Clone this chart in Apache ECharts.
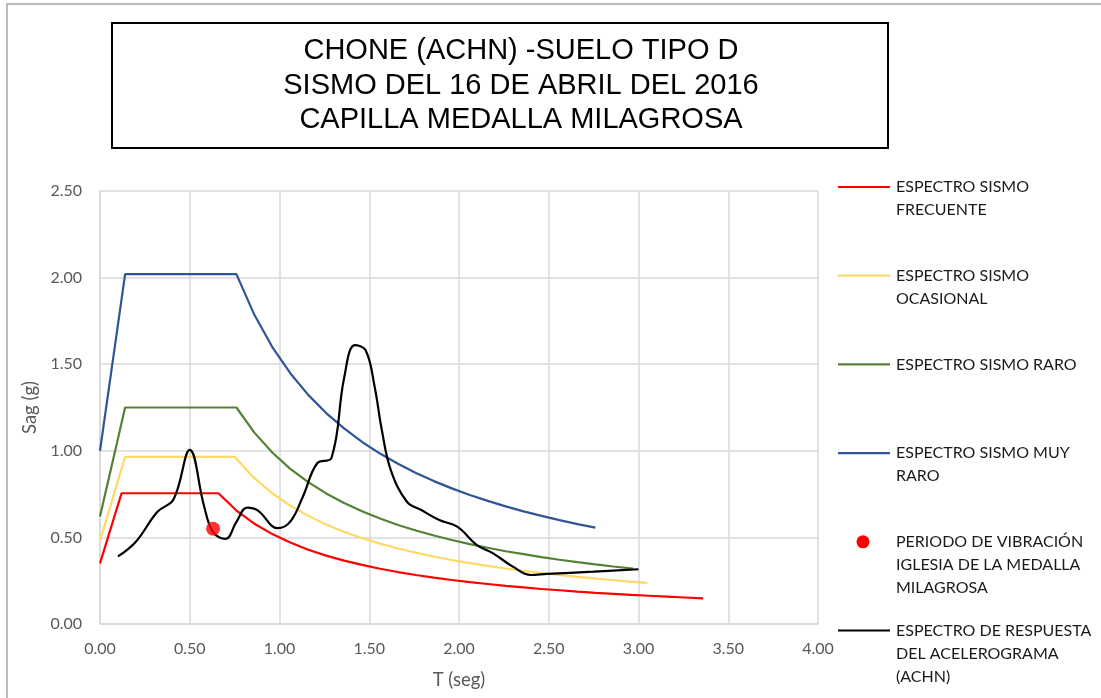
<!DOCTYPE html>
<html><head><meta charset="utf-8">
<script src="https://cdn.jsdelivr.net/npm/echarts/dist/echarts.min.js"></script>
<style>html,body{margin:0;padding:0;background:#fff}#c{width:1101px;height:698px}</style>
</head><body><div id="c"></div>
<script>
// ---- Text ----
const titleLines = ['CHONE (ACHN) -SUELO TIPO D', 'SISMO DEL 16 DE ABRIL DEL 2016', 'CAPILLA MEDALLA MILAGROSA'];
const xAxisTitle = 'T (seg)';
const yAxisTitle = 'Sag (g)';
const legendLabels = [
  'ESPECTRO SISMO\nFRECUENTE',
  'ESPECTRO SISMO\nOCASIONAL',
  'ESPECTRO SISMO RARO',
  'ESPECTRO SISMO MUY\nRARO',
  'PERIODO DE VIBRACIÓN\nIGLESIA DE LA MEDALLA\nMILAGROSA',
  'ESPECTRO DE RESPUESTA\nDEL ACELEROGRAMA\n(ACHN)'
];
const xTicks = [0, 0.5, 1, 1.5, 2, 2.5, 3, 3.5, 4];
const yTicks = [0, 0.5, 1, 1.5, 2, 2.5];

// ---- Data ----
const frecuenteT  = [0, 0.12, 0.66, 0.76, 0.86, 0.96, 1.06, 1.16, 1.26, 1.36, 1.46, 1.56, 1.66, 1.76, 1.86, 1.96, 2.06, 2.16, 2.26, 2.36, 2.46, 2.56, 2.66, 2.76, 2.86, 2.96, 3.06, 3.16, 3.26, 3.36];
const frecuenteSa = [0.35, 0.755, 0.755, 0.655, 0.579, 0.519, 0.470, 0.429, 0.395, 0.366, 0.341, 0.319, 0.300, 0.283, 0.268, 0.254, 0.242, 0.231, 0.220, 0.211, 0.202, 0.195, 0.187, 0.180, 0.174, 0.168, 0.163, 0.158, 0.153, 0.148];

const ocasionalT  = [0, 0.14, 0.75, 0.85, 0.95, 1.05, 1.15, 1.25, 1.35, 1.45, 1.55, 1.65, 1.75, 1.85, 1.95, 2.05, 2.15, 2.25, 2.35, 2.45, 2.55, 2.65, 2.75, 2.85, 2.95, 3.05];
const ocasionalSa = [0.48, 0.965, 0.965, 0.852, 0.762, 0.690, 0.630, 0.579, 0.536, 0.499, 0.467, 0.439, 0.414, 0.391, 0.371, 0.353, 0.337, 0.322, 0.308, 0.296, 0.284, 0.273, 0.263, 0.254, 0.245, 0.237];

const raroT  = [0, 0.14, 0.76, 0.86, 0.96, 1.06, 1.16, 1.26, 1.36, 1.46, 1.56, 1.66, 1.76, 1.86, 1.96, 2.06, 2.16, 2.26, 2.36, 2.46, 2.56, 2.66, 2.76, 2.86, 2.97];
const raroSa = [0.62, 1.25, 1.25, 1.105, 0.990, 0.896, 0.819, 0.754, 0.699, 0.651, 0.609, 0.572, 0.540, 0.511, 0.485, 0.461, 0.440, 0.420, 0.403, 0.386, 0.371, 0.357, 0.344, 0.332, 0.320];

const muyRaroT  = [0, 0.14, 0.76, 0.86, 0.96, 1.06, 1.16, 1.26, 1.36, 1.46, 1.56, 1.66, 1.76, 1.86, 1.96, 2.06, 2.16, 2.26, 2.36, 2.46, 2.56, 2.66, 2.76];
const muyRaroSa = [1.00, 2.02, 2.02, 1.785, 1.599, 1.448, 1.323, 1.218, 1.129, 1.051, 0.984, 0.925, 0.872, 0.825, 0.783, 0.745, 0.711, 0.679, 0.650, 0.624, 0.600, 0.577, 0.556];

const periodoT  = [0.63];
const periodoSa = [0.55];

const achnT  = [0.10, 0.20, 0.32, 0.41, 0.50, 0.58, 0.63, 0.70, 0.76, 0.82, 0.88, 0.99, 1.06, 1.13, 1.21, 1.29, 1.36, 1.42, 1.48, 1.53, 1.57, 1.62, 1.71, 1.79, 1.89, 1.99, 2.10, 2.19, 2.30, 2.40, 2.49, 2.75, 3.00];
const achnSa = [0.39, 0.475, 0.648, 0.72, 1.005, 0.68, 0.53, 0.491, 0.59, 0.672, 0.655, 0.553, 0.591, 0.735, 0.928, 0.96, 1.42, 1.61, 1.58, 1.37, 1.12, 0.889, 0.706, 0.658, 0.600, 0.562, 0.456, 0.408, 0.331, 0.283, 0.289, 0.302, 0.316];

// ---- Styles ----
const colors = ['#ff0000', '#ffd966', '#548235', '#2f5597', '#ff0000', '#000000'];
const zip = (a, b) => a.map((v, i) => [v, b[i]]);

const chart = echarts.init(document.getElementById('c'), null, {renderer: 'canvas'});
const tickFont = {fontFamily: 'Lato', fontSize: 16, color: '#595959'};
const gridColor = '#d9d9d9';

// Legend graphic elements
const legendEls = [];
const legTop = 187, legStep = 88.7;
legendLabels.forEach((lab, i) => {
  const cy = legTop + i * legStep;
  if (i === 4) {
    legendEls.push({type: 'circle', shape: {cx: 863, cy: cy, r: 6.5}, style: {fill: colors[i]}});
  } else {
    legendEls.push({type: 'line', shape: {x1: 838, y1: cy, x2: 890, y2: cy}, style: {stroke: colors[i], lineWidth: 2.2}});
  }
  legendEls.push({type: 'text', x: 896, y: cy - 11.5, style: {text: lab, font: '16px Lato', fill: '#1a1a1a', lineHeight: 23, verticalAlign: 'top', align: 'left'}});
});

const titleEls = titleLines.map((t, i) => ({
  type: 'text', x: 521, y: 51 + i * 34.7,
  style: {text: t, font: '29px "Liberation Sans"', fill: '#000', align: 'center', verticalAlign: 'middle'}
}));

const lineSeries = (name, t, s, c) => ({
  name, type: 'line', data: zip(t, s), showSymbol: false, symbol: 'none',
  lineStyle: {color: c, width: 2.2}, itemStyle: {color: c}, z: 3, animation: false
});

chart.setOption({
  backgroundColor: '#fff',
  animation: false,
  grid: {left: 100, right: 283, top: 191, bottom: 74, containLabel: false},
  xAxis: {
    type: 'value', min: 0, max: 4, interval: 0.5,
    name: xAxisTitle, nameLocation: 'middle', nameGap: 47,
    nameTextStyle: {fontFamily: 'Lato', fontSize: 18.5, color: '#595959'},
    axisLine: {show: true, lineStyle: {color: gridColor, width: 1.5}},
    axisTick: {show: false},
    splitLine: {show: true, lineStyle: {color: gridColor, width: 1.5}},
    axisLabel: Object.assign({margin: 17, formatter: v => v.toFixed(2)}, tickFont)
  },
  yAxis: {
    type: 'value', min: 0, max: 2.5, interval: 0.5,
    name: yAxisTitle, nameLocation: 'middle', nameGap: 60, nameRotate: 90,
    nameTextStyle: {fontFamily: 'Lato', fontSize: 18.5, color: '#595959'},
    axisLine: {show: true, lineStyle: {color: gridColor, width: 1.5}},
    axisTick: {show: false},
    splitLine: {show: true, lineStyle: {color: gridColor, width: 1.5}},
    axisLabel: Object.assign({margin: 18, formatter: v => v.toFixed(2)}, tickFont)
  },
  series: [
    lineSeries('ESPECTRO SISMO FRECUENTE', frecuenteT, frecuenteSa, colors[0]),
    lineSeries('ESPECTRO SISMO OCASIONAL', ocasionalT, ocasionalSa, colors[1]),
    lineSeries('ESPECTRO SISMO RARO', raroT, raroSa, colors[2]),
    lineSeries('ESPECTRO SISMO MUY RARO', muyRaroT, muyRaroSa, colors[3]),
    Object.assign(lineSeries('ESPECTRO DE RESPUESTA DEL ACELEROGRAMA (ACHN)', achnT, achnSa, colors[5]), {smooth: 0.4, z: 4}),
    {name: 'PERIODO DE VIBRACIÓN IGLESIA DE LA MEDALLA MILAGROSA', type: 'scatter', data: zip(periodoT, periodoSa),
      symbol: 'circle', symbolSize: 14, itemStyle: {color: colors[4]}, z: 5, animation: false}
  ],
  graphic: [
    {type: 'rect', shape: {x: 7, y: 4, width: 1200, height: 800}, style: {fill: 'none', stroke: '#a6a6a6', lineWidth: 1.5}, z: 0, silent: true},
    {type: 'rect', shape: {x: 112, y: 23, width: 776, height: 125}, style: {fill: '#fff', stroke: '#000', lineWidth: 2}, z: 1},
    ...titleEls.map(e => Object.assign(e, {z: 2})),
    ...legendEls
  ]
});
</script>
</body></html>
